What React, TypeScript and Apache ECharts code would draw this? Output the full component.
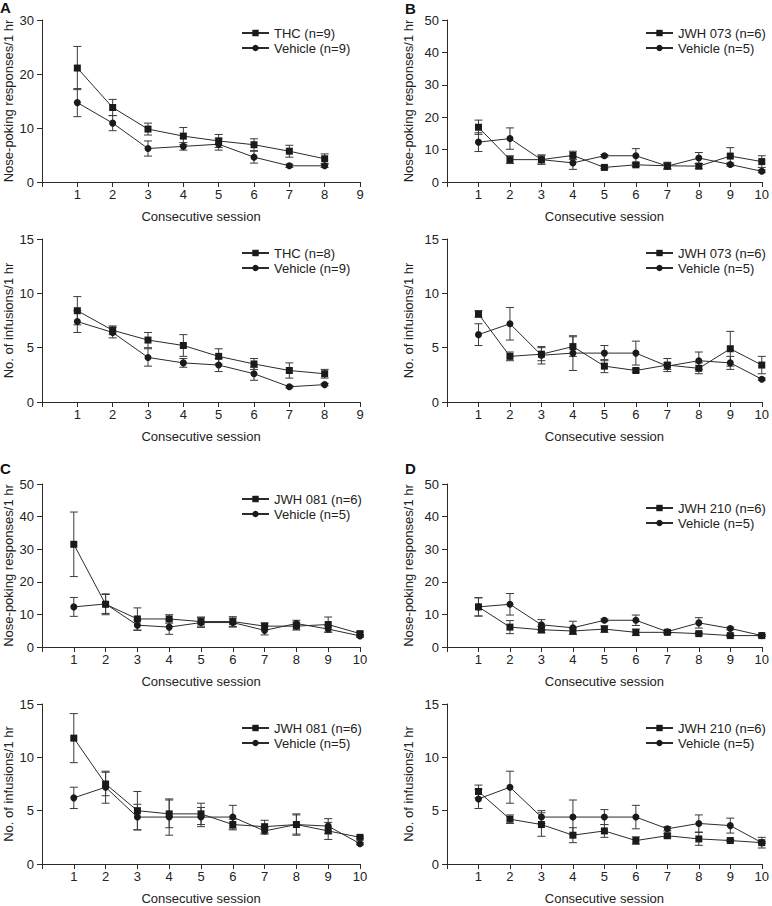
import React, { useEffect, useRef } from "react";
import * as echarts from "echarts";

// Sessions
const sessions8 = [1, 2, 3, 4, 5, 6, 7, 8];
const sessions10 = [1, 2, 3, 4, 5, 6, 7, 8, 9, 10];

// Panel A (THC) – nose-poking responses
const aNoseTHC = [21.1, 13.8, 9.8, 8.5, 7.6, 6.9, 5.7, 4.3];
const aNoseTHCErr = [4.0, 1.5, 1.1, 1.6, 1.2, 1.1, 1.1, 0.9];
const aNoseVeh = [14.7, 10.9, 6.2, 6.6, 7.0, 4.6, 3.0, 3.0];
const aNoseVehErr = [2.6, 1.4, 1.4, 0.7, 1.1, 1.1, 0.3, 0.3];
// Panel A – infusions
const aInfTHC = [8.4, 6.6, 5.7, 5.2, 4.2, 3.5, 2.9, 2.6];
const aInfTHCErr = [1.3, 0.4, 0.7, 1.0, 0.7, 0.5, 0.7, 0.4];
const aInfVeh = [7.4, 6.4, 4.1, 3.6, 3.4, 2.6, 1.4, 1.6];
const aInfVehErr = [1.0, 0.5, 0.8, 0.4, 0.6, 0.6, 0.1, 0.1];

// Panel B (JWH 073)
const bNoseJWH = [16.9, 6.9, 6.9, 8.2, 4.5, 5.3, 5.0, 4.9, 8.0, 6.3];
const bNoseJWHErr = [2.2, 1.2, 1.4, 1.3, 0.4, 0.5, 1.1, 0.8, 2.6, 1.8];
const bNoseVeh = [12.3, 13.4, 6.9, 5.9, 8.1, 8.1, 4.9, 7.4, 5.4, 3.3];
const bNoseVehErr = [2.9, 3.3, 1.4, 2.0, 0.4, 2.2, 0.8, 1.7, 0.5, 0.4];
const bInfJWH = [8.1, 4.2, 4.4, 5.1, 3.3, 2.9, 3.4, 3.1, 4.9, 3.4];
const bInfJWHErr = [0.3, 0.4, 0.6, 0.9, 0.6, 0.15, 0.6, 0.5, 1.6, 0.8];
const bInfVeh = [6.2, 7.2, 4.3, 4.5, 4.5, 4.5, 3.3, 3.8, 3.6, 2.1];
const bInfVehErr = [1.0, 1.5, 0.8, 1.6, 0.7, 1.1, 0.3, 0.8, 0.6, 0.1];

// Panel C (JWH 081)
const cNoseJWH = [31.5, 13.1, 8.6, 8.6, 7.8, 7.8, 6.4, 6.4, 6.9, 4.1];
const cNoseJWHErr = [9.9, 3.2, 3.4, 1.3, 1.4, 1.5, 1.0, 1.2, 2.3, 0.5];
const cNoseVeh = [12.3, 13.2, 6.7, 6.1, 7.5, 7.5, 5.1, 7.2, 5.5, 3.4];
const cNoseVehErr = [2.9, 2.9, 1.6, 2.2, 1.5, 1.4, 1.4, 1.0, 1.0, 0.4];
const cInfJWH = [11.8, 7.5, 5.0, 4.7, 4.7, 3.7, 3.5, 3.7, 3.1, 2.5];
const cInfJWHErr = [2.3, 1.1, 1.8, 1.3, 1.0, 0.5, 0.6, 0.9, 0.8, 0.1];
const cInfVeh = [6.2, 7.2, 4.4, 4.4, 4.4, 4.4, 3.1, 3.7, 3.55, 1.9];
const cInfVehErr = [1.0, 1.5, 1.2, 1.7, 0.9, 1.1, 0.3, 1.0, 0.7, 0.1];

// Panel D (JWH 210)
const dNoseJWH = [12.3, 6.1, 5.3, 4.9, 5.5, 4.5, 4.5, 4.1, 3.5, 3.5];
const dNoseJWHErr = [2.8, 2.0, 1.0, 1.0, 1.0, 1.0, 0.4, 0.4, 0.3, 0.3];
const dNoseVeh = [12.3, 13.1, 6.8, 5.9, 8.2, 8.2, 4.7, 7.4, 5.7, 3.5];
const dNoseVehErr = [2.8, 3.3, 1.6, 2.0, 0.4, 1.6, 0.4, 1.6, 0.4, 0.3];
const dInfJWH = [6.8, 4.2, 3.7, 2.7, 3.1, 2.2, 2.65, 2.35, 2.2, 2.0];
const dInfJWHErr = [0.6, 0.4, 1.1, 0.7, 0.6, 0.35, 0.2, 0.6, 0.1, 0.5];
const dInfVeh = [6.1, 7.2, 4.4, 4.4, 4.4, 4.4, 3.3, 3.8, 3.6, 2.0];
const dInfVehErr = [0.9, 1.5, 0.6, 1.6, 0.7, 1.1, 0.2, 0.8, 0.7, 0.1];

const noseName = "Nose-poking responses/1 hr";
const infName = "No. of infusions/1 hr";
const xName = "Consecutive session";

const TEXT = "#222";
const LINE = "#2b2b2b";
const FONT = "'Liberation Sans', Arial, sans-serif";

type Panel = {
  rect: { left: number; top: number; width: number; height: number };
  xs: number[];
  xMax: number;
  yMax: number;
  yInterval: number;
  yName: string;
  yNameGap: number;
  drugName: string;
  vehName: string;
  drug: number[];
  drugErr: number[];
  veh: number[];
  vehErr: number[];
  legend: { left: number; top: number };
};

const panels: Panel[] = [
  {
    rect: { left: 42, top: 20, width: 318, height: 162 },
    xs: sessions8, xMax: 9, yMax: 30, yInterval: 10, yName: noseName, yNameGap: 27,
    drugName: "THC (n=9)", vehName: "Vehicle (n=9)",
    drug: aNoseTHC, drugErr: aNoseTHCErr, veh: aNoseVeh, vehErr: aNoseVehErr,
    legend: { left: 241, top: 26 },
  },
  {
    rect: { left: 447, top: 20, width: 319, height: 162 },
    xs: sessions10, xMax: 10, yMax: 50, yInterval: 10, yName: noseName, yNameGap: 32,
    drugName: "JWH 073 (n=6)", vehName: "Vehicle (n=5)",
    drug: bNoseJWH, drugErr: bNoseJWHErr, veh: bNoseVeh, vehErr: bNoseVehErr,
    legend: { left: 645, top: 26 },
  },
  {
    rect: { left: 42, top: 239, width: 318, height: 163 },
    xs: sessions8, xMax: 9, yMax: 15, yInterval: 5, yName: infName, yNameGap: 27,
    drugName: "THC (n=8)", vehName: "Vehicle (n=9)",
    drug: aInfTHC, drugErr: aInfTHCErr, veh: aInfVeh, vehErr: aInfVehErr,
    legend: { left: 241, top: 246 },
  },
  {
    rect: { left: 447, top: 239, width: 319, height: 163 },
    xs: sessions10, xMax: 10, yMax: 15, yInterval: 5, yName: infName, yNameGap: 32,
    drugName: "JWH 073 (n=6)", vehName: "Vehicle (n=5)",
    drug: bInfJWH, drugErr: bInfJWHErr, veh: bInfVeh, vehErr: bInfVehErr,
    legend: { left: 645, top: 246 },
  },
  {
    rect: { left: 42, top: 484, width: 318, height: 163 },
    xs: sessions10, xMax: 10, yMax: 50, yInterval: 10, yName: noseName, yNameGap: 27,
    drugName: "JWH 081 (n=6)", vehName: "Vehicle (n=5)",
    drug: cNoseJWH, drugErr: cNoseJWHErr, veh: cNoseVeh, vehErr: cNoseVehErr,
    legend: { left: 241, top: 492 },
  },
  {
    rect: { left: 447, top: 484, width: 319, height: 163 },
    xs: sessions10, xMax: 10, yMax: 50, yInterval: 10, yName: noseName, yNameGap: 32,
    drugName: "JWH 210 (n=6)", vehName: "Vehicle (n=5)",
    drug: dNoseJWH, drugErr: dNoseJWHErr, veh: dNoseVeh, vehErr: dNoseVehErr,
    legend: { left: 645, top: 501 },
  },
  {
    rect: { left: 42, top: 704, width: 318, height: 162 },
    xs: sessions10, xMax: 10, yMax: 15, yInterval: 5, yName: infName, yNameGap: 27,
    drugName: "JWH 081 (n=6)", vehName: "Vehicle (n=5)",
    drug: cInfJWH, drugErr: cInfJWHErr, veh: cInfVeh, vehErr: cInfVehErr,
    legend: { left: 241, top: 721 },
  },
  {
    rect: { left: 447, top: 704, width: 319, height: 162 },
    xs: sessions10, xMax: 10, yMax: 15, yInterval: 5, yName: infName, yNameGap: 32,
    drugName: "JWH 210 (n=6)", vehName: "Vehicle (n=5)",
    drug: dInfJWH, drugErr: dInfJWHErr, veh: dInfVeh, vehErr: dInfVehErr,
    legend: { left: 645, top: 721 },
  },
];

const errorRender = (params: any, api: any) => {
  const x = api.value(0);
  const lo = api.value(1);
  const hi = api.value(2);
  const top = api.coord([x, hi]);
  const bot = api.coord([x, lo]);
  const hw = 4;
  const style = { stroke: "#3a3a3a", lineWidth: 1 };
  return {
    type: "group",
    children: [
      { type: "line", shape: { x1: top[0], y1: top[1], x2: bot[0], y2: bot[1] }, style },
      { type: "line", shape: { x1: top[0] - hw, y1: top[1], x2: top[0] + hw, y2: top[1] }, style },
      { type: "line", shape: { x1: bot[0] - hw, y1: bot[1], x2: bot[0] + hw, y2: bot[1] }, style },
    ],
  };
};

function buildOption() {
  const grid: any[] = [];
  const xAxis: any[] = [];
  const yAxis: any[] = [];
  const series: any[] = [];
  const legend: any[] = [];

  panels.forEach((p, i) => {
    grid.push({ ...p.rect, containLabel: false });
    xAxis.push({
      type: "value",
      gridIndex: i,
      min: 0,
      max: p.xMax,
      interval: 1,
      axisLine: { show: true, lineStyle: { color: LINE, width: 1 } },
      axisTick: { show: true, length: 5, lineStyle: { color: LINE } },
      axisLabel: {
        fontSize: 13,
        color: TEXT,
        margin: 6,
        formatter: (v: number) => (v === 0 ? "" : String(v)),
      },
      splitLine: { show: false },
      name: xName,
      nameLocation: "middle",
      nameGap: 28,
      nameTextStyle: { fontSize: 13, color: TEXT },
    });
    yAxis.push({
      type: "value",
      gridIndex: i,
      min: 0,
      max: p.yMax,
      interval: p.yInterval,
      axisLine: { show: true, lineStyle: { color: LINE, width: 1 } },
      axisTick: { show: true, length: 5, lineStyle: { color: LINE } },
      axisLabel: { fontSize: 13, color: TEXT, margin: 8 },
      splitLine: { show: false },
      name: p.yName,
      nameLocation: "middle",
      nameRotate: 90,
      nameGap: p.yNameGap,
      nameTextStyle: { fontSize: 13, color: TEXT },
    });

    const mk = (vals: number[], errs: number[]) =>
      vals.map((v, k) => [p.xs[k], v - errs[k], v + errs[k]]);

    series.push({
      type: "custom",
      name: "err-drug-" + i,
      xAxisIndex: i,
      yAxisIndex: i,
      renderItem: errorRender,
      encode: { x: 0, y: [1, 2] },
      data: mk(p.drug, p.drugErr),
      z: 1,
      silent: true,
    });
    series.push({
      type: "custom",
      name: "err-veh-" + i,
      xAxisIndex: i,
      yAxisIndex: i,
      renderItem: errorRender,
      encode: { x: 0, y: [1, 2] },
      data: mk(p.veh, p.vehErr),
      z: 1,
      silent: true,
    });
    series.push({
      type: "line",
      name: p.drugName,
      xAxisIndex: i,
      yAxisIndex: i,
      data: p.drug.map((v, k) => [p.xs[k], v]),
      symbol: "rect",
      symbolSize: 7,
      lineStyle: { color: LINE, width: 1 },
      itemStyle: { color: "#1a1a1a" },
      z: 3,
    });
    series.push({
      type: "line",
      name: p.vehName,
      xAxisIndex: i,
      yAxisIndex: i,
      data: p.veh.map((v, k) => [p.xs[k], v]),
      symbol: "circle",
      symbolSize: 7,
      lineStyle: { color: LINE, width: 1 },
      itemStyle: { color: "#1a1a1a" },
      z: 3,
    });

    legend.push({
      orient: "vertical",
      left: p.legend.left,
      top: p.legend.top,
      itemWidth: 27,
      itemHeight: 8,
      itemGap: 1,
      padding: 0,
      selectedMode: false,
      textStyle: { fontSize: 13, color: TEXT, lineHeight: 14 },
      data: [p.drugName, p.vehName],
    });
  });

  const letterStyle = { fontSize: 15, fontWeight: "bold", fill: "#111", fontFamily: FONT };
  const graphic = [
    { type: "text", left: 0, top: 0, style: { text: "A", ...letterStyle } },
    { type: "text", left: 405, top: 1, style: { text: "B", ...letterStyle } },
    { type: "text", left: 0, top: 461, style: { text: "C", ...letterStyle } },
    { type: "text", left: 405, top: 461, style: { text: "D", ...letterStyle } },
  ];

  return {
    animation: false,
    backgroundColor: "#fff",
    textStyle: { fontFamily: FONT },
    grid,
    xAxis,
    yAxis,
    series,
    legend,
    graphic,
  };
}

export default function App() {
  const ref = useRef<HTMLDivElement>(null);
  useEffect(() => {
    if (!ref.current) return;
    const chart = echarts.init(ref.current, undefined, { renderer: "svg" });
    chart.setOption(buildOption() as any);
    return () => chart.dispose();
  }, []);
  return (
    <div
      ref={ref}
      style={{ position: "fixed", left: 0, top: 0, width: 772, height: 906 }}
    />
  );
}
